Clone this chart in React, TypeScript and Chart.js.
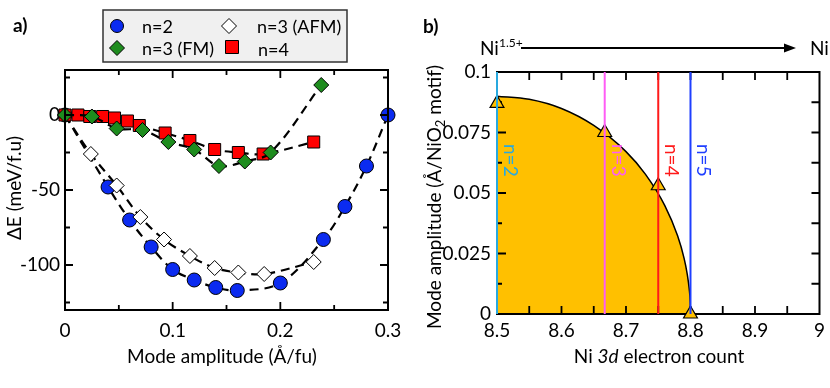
import React, { useEffect, useRef } from 'react';
import { Chart, registerables } from 'chart.js';

Chart.register(...registerables);

const FAMILY = 'Lato, "Open Sans", sans-serif';
const FS = 19;

// ---------------- panel a data ----------------
const n2X = [0, 0.04, 0.06, 0.08, 0.1, 0.12, 0.14, 0.16, 0.2, 0.24, 0.26, 0.28, 0.3];
const n2Y = [0, -48, -70, -88, -103, -110, -115, -117, -112, -83, -61, -34, 0];
const afmX = [0, 0.024, 0.048, 0.07, 0.092, 0.116, 0.139, 0.161, 0.185, 0.231];
const afmY = [0, -26, -47, -68, -83, -94, -102, -105, -106, -98];
const fmX = [0, 0.025, 0.048, 0.072, 0.096, 0.12, 0.143, 0.167, 0.191, 0.238];
const fmY = [0, -1, -9, -10, -18, -23, -34, -31, -25, 20];
const n4X = [0, 0.012, 0.023, 0.035, 0.046, 0.058, 0.069, 0.093, 0.116, 0.139, 0.161, 0.184, 0.231];
const n4Y = [0, 0, -1, -1, -2, -4, -7, -12, -17, -23, -25, -26, -18];

const aXTickLabels = [0, 0.1, 0.2, 0.3];
const aYTickLabels = [-100, -50, 0];
const aXTickMarks = [0, 0.05, 0.1, 0.15, 0.2, 0.25, 0.3];
const aYTickMarks = [-125, -100, -75, -50, -25, 0, 25];
const legendLabels = ['n=2', 'n=3 (AFM)', 'n=3 (FM)', 'n=4'];

// ---------------- panel b data ----------------
const curveX = [8.5, 8.55, 8.6, 8.65, 8.7, 8.73, 8.76, 8.78, 8.79, 8.795, 8.798, 8.7995, 8.8];
const curveY = [0.09, 0.0887, 0.0849, 0.0779, 0.0671, 0.0578, 0.0449, 0.0323, 0.0231, 0.0164, 0.0104, 0.0052, 0];
const triX = [8.5, 8.667, 8.75, 8.8];
const triY = [0.087, 0.075, 0.053, 0];
const lineX = [8.5, 8.667, 8.75, 8.8];
const lineLabels = ['n=2', 'n=3', 'n=4', 'n=5'];
const lineColors = ['#29A9DF', '#FF5CF5', '#FF1A1A', '#1F3FFF'];
const bXTickLabels = [8.5, 8.6, 8.7, 8.8, 8.9, 9];
const bYTickLabels = [0, 0.025, 0.05, 0.075, 0.1];
const bXTickMarks = [8.55, 8.6, 8.65, 8.7, 8.75, 8.8, 8.85, 8.9, 8.95];
const bYTickMarks = [0.0125, 0.025, 0.0375, 0.05, 0.0625, 0.075, 0.0875];

const BLUE = '#0B2BF0';
const GREEN = '#1E8C1E';
const RED = '#FF0000';
const ORANGE = '#FFC000';

const pts = (xs: number[], ys: number[]) => xs.map((x, i) => ({ x, y: ys[i] }));

type Part = { t: string; font: string; dy?: number };
function drawRich(ctx: CanvasRenderingContext2D, parts: Part[], x: number, y: number, center: boolean) {
  let total = 0;
  for (const p of parts) {
    ctx.font = p.font;
    total += ctx.measureText(p.t).width;
  }
  let cx = center ? x - total / 2 : x;
  ctx.textAlign = 'left';
  for (const p of parts) {
    ctx.font = p.font;
    ctx.fillText(p.t, cx, y + (p.dy || 0));
    cx += ctx.measureText(p.t).width;
  }
}

function marker(ctx: CanvasRenderingContext2D, style: string, x: number, y: number, fill: string) {
  ctx.save();
  ctx.fillStyle = fill;
  ctx.strokeStyle = '#000';
  ctx.lineWidth = 1;
  ctx.beginPath();
  if (style === 'circle') ctx.arc(x, y, 6.5, 0, Math.PI * 2);
  else if (style === 'diamond') {
    ctx.moveTo(x, y - 7.5); ctx.lineTo(x + 7.5, y); ctx.lineTo(x, y + 7.5); ctx.lineTo(x - 7.5, y); ctx.closePath();
  } else {
    ctx.rect(x - 6.5, y - 6.5, 13, 13);
  }
  ctx.fill();
  ctx.stroke();
  ctx.restore();
}

const leftDecor = {
  id: 'leftDecor',
  afterDatasetsDraw(chart: any) {
    const { ctx, chartArea: a } = chart;
    const xs = chart.scales.x;
    const ys = chart.scales.y;
    ctx.save();
    ctx.strokeStyle = '#000';
    ctx.lineWidth = 2;
    ctx.strokeRect(a.left, a.top, a.right - a.left, a.bottom - a.top);
    ctx.lineWidth = 1.8;
    ctx.beginPath();
    aXTickMarks.forEach((v, i) => {
      const px = xs.getPixelForValue(v);
      const len = i % 2 === 0 ? 8 : 5;
      ctx.moveTo(px, a.bottom); ctx.lineTo(px, a.bottom - len);
      ctx.moveTo(px, a.top); ctx.lineTo(px, a.top + len);
    });
    aYTickMarks.forEach((v) => {
      const py = ys.getPixelForValue(v);
      const len = v % 50 === 0 ? 8 : 5;
      ctx.moveTo(a.left, py); ctx.lineTo(a.left + len, py);
      ctx.moveTo(a.right, py); ctx.lineTo(a.right - len, py);
    });
    ctx.stroke();
    ctx.restore();
  },
  afterDraw(chart: any) {
    const { ctx } = chart;
    ctx.save();
    ctx.fillStyle = '#000';
    ctx.textBaseline = 'alphabetic';
    ctx.font = `bold 19px ${FAMILY}`;
    ctx.textAlign = 'left';
    ctx.fillText('a)', 13, 32);
    ctx.font = `${FS}px ${FAMILY}`;
    ctx.textAlign = 'center';
    ctx.fillText('Mode amplitude (Å/fu)', 222, 363);
    ctx.save();
    ctx.translate(21, 188);
    ctx.rotate(-Math.PI / 2);
    ctx.fillText('ΔE (meV/f.u)', 0, 0);
    ctx.restore();
    // legend
    ctx.fillStyle = '#F0F0F0';
    ctx.fillRect(103, 10, 244, 52);
    ctx.strokeStyle = '#333';
    ctx.lineWidth = 1.5;
    ctx.strokeRect(103, 10, 244, 52);
    marker(ctx, 'circle', 117, 26, BLUE);
    marker(ctx, 'diamond', 229, 26, '#FFFFFF');
    marker(ctx, 'diamond', 117, 48, GREEN);
    marker(ctx, 'square', 232, 47, RED);
    ctx.fillStyle = '#000';
    ctx.font = `18px ${FAMILY}`;
    ctx.textAlign = 'left';
    ctx.textBaseline = 'middle';
    ctx.fillText(legendLabels[0], 142, 27);
    ctx.fillText(legendLabels[1], 257, 27);
    ctx.fillText(legendLabels[2], 142, 49);
    ctx.fillText(legendLabels[3], 258, 50);
    ctx.restore();
  },
};

const rightDecor = {
  id: 'rightDecor',
  beforeDatasetsDraw(chart: any) {
    const { ctx, chartArea: a } = chart;
    const xs = chart.scales.x;
    const ys = chart.scales.y;
    ctx.save();
    ctx.strokeStyle = '#000';
    ctx.lineWidth = 2;
    ctx.strokeRect(a.left, a.top, a.right - a.left, a.bottom - a.top);
    ctx.lineWidth = 1.8;
    ctx.beginPath();
    bXTickMarks.forEach((v) => {
      const px = xs.getPixelForValue(v);
      ctx.moveTo(px, a.bottom); ctx.lineTo(px, a.bottom - 8);
      ctx.moveTo(px, a.top); ctx.lineTo(px, a.top + 8);
    });
    bYTickMarks.forEach((v, i) => {
      const py = ys.getPixelForValue(v);
      const len = i % 2 === 1 ? 9 : 5;
      ctx.moveTo(a.left, py); ctx.lineTo(a.left + len, py);
      ctx.moveTo(a.right, py); ctx.lineTo(a.right - 8, py);
    });
    ctx.stroke();
    ctx.restore();
  },
  afterDraw(chart: any) {
    const { ctx } = chart;
    const xs = chart.scales.x;
    const ys = chart.scales.y;
    ctx.save();
    ctx.fillStyle = '#000';
    ctx.textBaseline = 'alphabetic';
    ctx.font = `bold 19px ${FAMILY}`;
    ctx.textAlign = 'left';
    ctx.fillText('b)', 8, 33);
    const f = `${FS}px ${FAMILY}`;
    const fi = `italic ${FS}px ${FAMILY}`;
    const fs = `12px ${FAMILY}`;
    drawRich(ctx, [{ t: 'Ni ', font: f }, { t: '3d', font: fi }, { t: ' electron count', font: f }], 244, 363, true);
    ctx.save();
    ctx.translate(26, 197);
    ctx.rotate(-Math.PI / 2);
    drawRich(ctx, [
      { t: 'Mode amplitude (Å/NiO', font: f },
      { t: '2', font: `13px ${FAMILY}`, dy: 4 },
      { t: ' motif)', font: f },
    ], 0, 0, true);
    ctx.restore();
    drawRich(ctx, [{ t: 'Ni', font: `19px ${FAMILY}` }, { t: '1.5+', font: fs, dy: -8 }], 65, 55, false);
    drawRich(ctx, [{ t: 'Ni', font: `19px ${FAMILY}` }, { t: '1+', font: fs, dy: -8 }], 395, 55, false);
    ctx.strokeStyle = '#000';
    ctx.lineWidth = 2;
    ctx.beginPath();
    ctx.moveTo(106, 48);
    ctx.lineTo(372, 48);
    ctx.stroke();
    ctx.beginPath();
    ctx.moveTo(381, 48);
    ctx.lineTo(369, 43.5);
    ctx.lineTo(369, 52.5);
    ctx.closePath();
    ctx.fill();
    ctx.font = f;
    ctx.textAlign = 'center';
    ctx.textBaseline = 'middle';
    lineX.forEach((v, i) => {
      ctx.save();
      ctx.fillStyle = lineColors[i];
      ctx.translate(xs.getPixelForValue(v) + 13, ys.getPixelForValue(0.0635));
      ctx.rotate(Math.PI / 2);
      ctx.fillText(lineLabels[i], 0, 0);
      ctx.restore();
    });
    ctx.restore();
  },
};

export default function App() {
  const leftRef = useRef<HTMLCanvasElement>(null);
  const rightRef = useRef<HTMLCanvasElement>(null);

  useEffect(() => {
    Chart.defaults.font.family = FAMILY;
    Chart.defaults.font.size = FS;
    Chart.defaults.color = '#000';

    const dashed = {
      borderColor: '#000',
      borderWidth: 2.2,
      borderDash: [9, 6],
      tension: 0.35,
      fill: false,
      pointBorderColor: '#000',
      pointBorderWidth: 1,
      clip: false as any,
    };

    const c1 = new Chart(leftRef.current as HTMLCanvasElement, {
      type: 'line',
      data: {
        datasets: [
          { ...dashed, label: legendLabels[2], data: pts(fmX, fmY), pointStyle: 'rectRot', pointRadius: 7.5, pointBackgroundColor: GREEN, order: 0 },
          { ...dashed, label: legendLabels[3], data: pts(n4X, n4Y), pointStyle: 'rect', pointRadius: 8.5, pointBackgroundColor: RED, order: 1 },
          { ...dashed, label: legendLabels[1], data: pts(afmX, afmY), pointStyle: 'rectRot', pointRadius: 7.5, pointBackgroundColor: '#FFFFFF', order: 2 },
          { ...dashed, label: legendLabels[0], data: pts(n2X, n2Y), pointStyle: 'circle', pointRadius: 7, pointBackgroundColor: BLUE, order: 3 },
        ] as any,
      },
      options: {
        responsive: false,
        animation: false,
        devicePixelRatio: 1,
        layout: { padding: { left: 0, top: 70, right: 27, bottom: 0 } },
        plugins: { legend: { display: false }, tooltip: { enabled: false } },
        scales: {
          x: {
            type: 'linear',
            min: 0,
            max: 0.3,
            grid: { display: false, drawTicks: false },
            border: { display: false },
            ticks: { padding: 9, callback: (v: any) => String(v) },
            afterBuildTicks: (s: any) => { s.ticks = aXTickLabels.map((value) => ({ value })); },
            afterFit: (s: any) => { s.height = 78; },
          },
          y: {
            type: 'linear',
            min: -130,
            max: 30,
            grid: { display: false, drawTicks: false },
            border: { display: false },
            ticks: { padding: 5, callback: (v: any) => String(v) },
            afterBuildTicks: (s: any) => { s.ticks = aYTickLabels.map((value) => ({ value })); },
            afterFit: (s: any) => { s.width = 65; },
          },
        },
      } as any,
      plugins: [leftDecor],
    });

    const vLines = lineX.map((v, i) => ({
      label: lineLabels[i],
      data: [{ x: v, y: 0 }, { x: v, y: 0.1 }],
      borderColor: lineColors[i],
      borderWidth: 2,
      pointRadius: 0,
      fill: false,
      order: 0,
      clip: false,
    }));

    const c2 = new Chart(rightRef.current as HTMLCanvasElement, {
      type: 'line',
      data: {
        datasets: [
          ...vLines,
          {
            label: 'triangles',
            data: pts(triX, triY),
            showLine: false,
            pointStyle: 'triangle',
            pointRadius: 8,
            pointBackgroundColor: ORANGE,
            pointBorderColor: '#000',
            pointBorderWidth: 1.2,
            order: 1,
            clip: false,
          },
          {
            label: 'curve',
            data: pts(curveX, curveY),
            borderColor: '#000',
            borderWidth: 1.5,
            backgroundColor: ORANGE,
            fill: 'origin',
            pointRadius: 0,
            cubicInterpolationMode: 'monotone',
            order: 2,
          },
        ] as any,
      },
      options: {
        responsive: false,
        animation: false,
        devicePixelRatio: 1,
        layout: { padding: { left: 0, top: 72, right: 7, bottom: 0 } },
        plugins: { legend: { display: false }, tooltip: { enabled: false }, filler: { drawTime: 'beforeDraw' } },
        scales: {
          x: {
            type: 'linear',
            min: 8.5,
            max: 9,
            grid: { display: false, drawTicks: false },
            border: { display: false },
            ticks: { padding: 5, callback: (v: any) => String(v) },
            afterBuildTicks: (s: any) => { s.ticks = bXTickLabels.map((value) => ({ value })); },
            afterFit: (s: any) => { s.height = 74; },
          },
          y: {
            type: 'linear',
            min: 0,
            max: 0.1,
            grid: { display: false, drawTicks: false },
            border: { display: false },
            ticks: { padding: 6, callback: (v: any) => String(v) },
            afterBuildTicks: (s: any) => { s.ticks = bYTickLabels.map((value) => ({ value })); },
            afterFit: (s: any) => { s.width = 82; },
          },
        },
      } as any,
      plugins: [rightDecor],
    });

    return () => {
      c1.destroy();
      c2.destroy();
    };
  }, []);

  return (
    <div style={{ position: 'absolute', left: 0, top: 0, width: 830, height: 388, background: '#fff', overflow: 'hidden' }}>
      <canvas ref={leftRef} width={415} height={388} style={{ position: 'absolute', left: 0, top: 0, width: 415, height: 388 }} />
      <canvas ref={rightRef} width={415} height={388} style={{ position: 'absolute', left: 415, top: 0, width: 415, height: 388 }} />
    </div>
  );
}
